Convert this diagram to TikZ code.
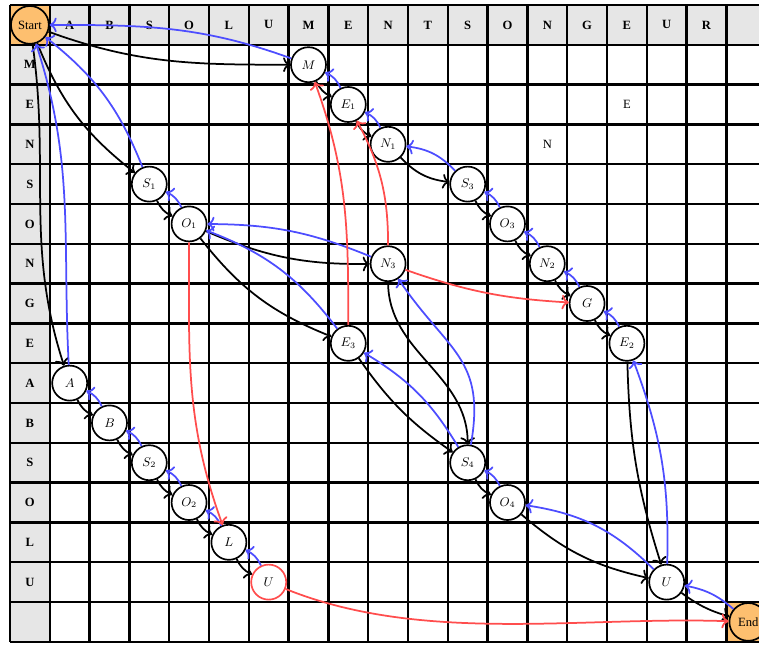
\documentclass[tikz,border=0pt]{standalone}
\usepackage{fontspec}
\setmainfont{Liberation Serif}
\usetikzlibrary{arrows.meta}
\definecolor{hdr}{RGB}{230,230,230}
\definecolor{org}{RGB}{253,191,111}
\definecolor{eblue}{RGB}{77,77,255}
\definecolor{ered}{RGB}{255,77,77}
\begin{document}
\begin{tikzpicture}[
  font=\fontsize{9}{10}\selectfont,
  >={To[scale=1.15]},
  st/.style={circle, draw=black, line width=1.2pt, fill=white, minimum size=0.88cm, inner sep=0pt},
  redst/.style={st, draw=ered},
  term/.style={st, fill=org, minimum size=0.95cm},
  hd/.style={font=\fontsize{9}{10}\selectfont\bfseries},
  fw/.style={->, draw=black, line width=1.25pt},
  bw/.style={->, draw=eblue, line width=1.25pt},
  rw/.style={->, draw=ered, line width=1.25pt},
]
\useasboundingbox (-0.251,-0.106) rectangle (18.819,16.126);
% cells
\fill[hdr] (0,15) rectangle (19,16);
\fill[hdr] (0,0) rectangle (1,16);
\fill[org] (0,15) rectangle (1,16);
\fill[org] (18,0) rectangle (19,1);
\draw[line width=1.6pt] (0,0) grid (19,16);
% headers
\foreach \l [count=\i] in {A,B,S,O,L,U,M,E,N,T,S,O,N,G,E,U,R}
  \node[hd] (c\i) at (\i+0.5,15.5) {\l};
\foreach \l [count=\i] in {M,E,N,S,O,N,G,E,A,B,S,O,L,U}
  \node[hd] (r\i) at (0.5,15.5-\i) {\l};
\node (tE) at (15.5,13.5) {E};
\node (tN) at (13.5,12.5) {N};
% states
\node[term] (Start) at (0.5,15.5) {Start};
\node[term] (End) at (18.55,0.5) {End};
\node[st] (M)  at (7.5,14.5) {$M$};
\node[st] (E1) at (8.5,13.5) {$E_1$};
\node[st] (N1) at (9.5,12.5) {$N_1$};
\node[st] (S3) at (11.5,11.5) {$S_3$};
\node[st] (O3) at (12.5,10.5) {$O_3$};
\node[st] (N2) at (13.5,9.5) {$N_2$};
\node[st] (G)  at (14.5,8.5) {$G$};
\node[st] (E2) at (15.5,7.5) {$E_2$};
\node[st] (S1) at (3.5,11.5) {$S_1$};
\node[st] (O1) at (4.5,10.5) {$O_1$};
\node[st] (N3) at (9.5,9.5) {$N_3$};
\node[st] (E3) at (8.5,7.5) {$E_3$};
\node[st] (A)  at (1.5,6.5) {$A$};
\node[st] (B)  at (2.5,5.5) {$B$};
\node[st] (S2) at (3.5,4.5) {$S_2$};
\node[st] (O2) at (4.5,3.5) {$O_2$};
\node[st] (L)  at (5.5,2.5) {$L$};
\node[redst] (Ur) at (6.5,1.5) {$U$};
\node[st] (S4) at (11.5,4.5) {$S_4$};
\node[st] (O4) at (12.5,3.5) {$O_4$};
\node[st] (U2) at (16.5,1.5) {$U$};
% short diagonal pairs
\foreach \a/\b in {M/E1,E1/N1,S3/O3,O3/N2,N2/G,G/E2,S1/O1,S4/O4,A/B,B/S2,S2/O2,O2/L,L/Ur}{
  \draw[fw] (\a) to[bend right=20] (\b);
  \draw[bw] (\b) to[bend right=20] (\a);
}
% black forward edges
\draw[fw] (Start) to[out=-20,in=180] (M);
\draw[fw] (Start) to[bend right=15] (S1);
\draw[fw] (Start) to[out=-82,in=108] (A);
\draw[fw] (N1) to[bend right=20] (S3);
\draw[fw] (O1) to[bend right=12] (N3);
\draw[fw] (O1) to[bend right=15] (E3);
\draw[fw] (N3) to[out=-90,in=90] (S4);
\draw[fw] (E3) to[bend right=10] (S4);
\draw[fw] (O4) to[bend right=14] (U2);
\draw[fw] (E2) to[bend right=8] (U2);
\draw[fw] (U2) to[bend right=10] (End);
% blue backward edges
\draw[bw] (M) to[out=160,in=0] (Start);
\draw[bw] (S1) to[bend right=15] (Start);
\draw[bw] (A) to[out=93,in=-72] (Start);
\draw[bw] (S3) to[bend right=20] (N1);
\draw[bw] (N3) to[bend right=11] (O1);
\draw[bw] (E3) to[bend right=16] (O1);
\draw[bw] (S4) to[out=80,in=-56,looseness=1.25] (N3);
\draw[bw] (S4) to[bend right=14] (E3);
\draw[bw] (U2) to[bend right=18] (O4);
\draw[bw] (U2) to[bend right=11] (E2);
\draw[bw] (End) to[bend right=15] (U2);
% red edges
\draw[rw] (E3) to[out=90,in=-70] (M);
\draw[rw] (N3) to[out=90,in=-62] (E1);
\draw[rw] (N3) to[bend right=8] (G);
\draw[rw] (O1) to[out=-90,in=110] (L);
\draw[rw] (Ur) to[out=-22,in=178,looseness=0.85] (End);
\end{tikzpicture}
\end{document}
